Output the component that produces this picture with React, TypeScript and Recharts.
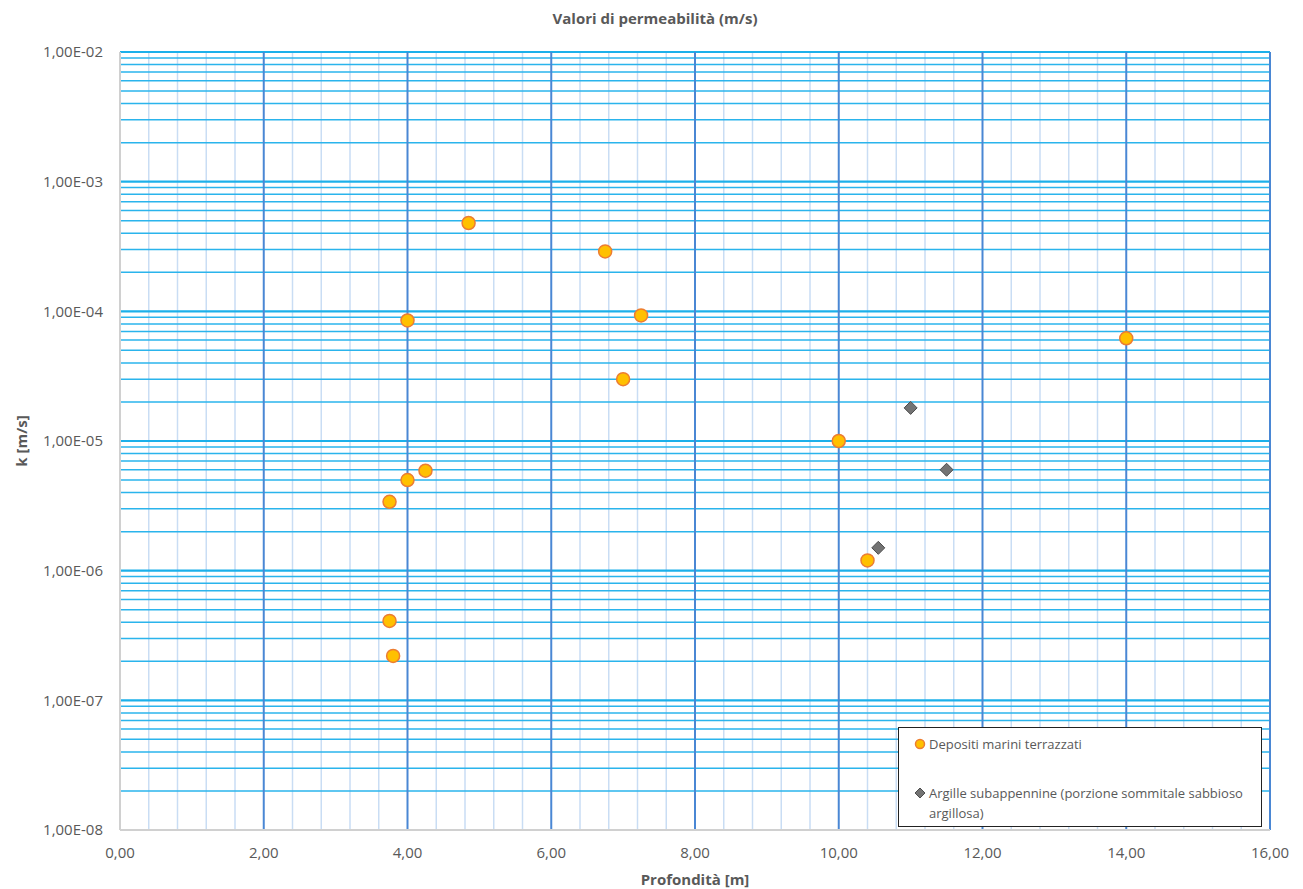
import React from "react";
import { ScatterChart, Scatter, XAxis, YAxis, ReferenceLine } from "recharts";

const depositiX = [4.85, 6.75, 4.0, 7.25, 7.0, 14.0, 10.0, 4.25, 4.0, 3.75, 10.4, 3.75, 3.8];
const depositiK = [4.8e-4, 2.9e-4, 8.5e-5, 9.3e-5, 3.0e-5, 6.2e-5, 1.0e-5, 5.9e-6, 5.0e-6, 3.4e-6, 1.2e-6, 4.1e-7, 2.2e-7];
const argilleX = [11.0, 11.5, 10.55];
const argilleK = [1.8e-5, 6.0e-6, 1.5e-6];

const xTicks = [0, 2, 4, 6, 8, 10, 12, 14, 16];
const yTicks = [1e-8, 1e-7, 1e-6, 1e-5, 1e-4, 1e-3, 1e-2];

const depositi = depositiX.map((x, i) => ({ x, y: depositiK[i] }));
const argille = argilleX.map((x, i) => ({ x, y: argilleK[i] }));

// minor x grid every 0.4, skipping the major ones
const xMinor: number[] = [];
for (let i = 1; i < 40; i++) {
    if (i % 5 !== 0) xMinor.push(Math.round(i * 0.4 * 100) / 100);
}
const yMinor: number[] = [];
for (let d = -8; d < -2; d++) {
    for (let m = 2; m <= 9; m++) yMinor.push(m * Math.pow(10, d));
}

const FONT = "'Open Sans', 'Noto Sans', sans-serif";
const GREY = "#595959";

const fmtX = (v: number) => v.toFixed(2).replace(".", ",");
const fmtY = (v: number) => {
    const e = Math.round(Math.log10(v));
    return "1,00E-" + String(-e).padStart(2, "0");
};

const Dot = (p: any) => (
    <circle cx={p.cx} cy={p.cy} r={6.5} fill="#ffc000" stroke="#ed7d31" strokeWidth={1.5} />
);
const Diamond = (p: any) => (
    <polygon
        points={`${p.cx},${p.cy - 6.5} ${p.cx + 6.5},${p.cy} ${p.cx},${p.cy + 6.5} ${p.cx - 6.5},${p.cy}`}
        fill="#737373" stroke="#4d4d4d" strokeWidth={1}
    />
);

function LegendBox() {
    return (
        <div style={{ position: "absolute", left: 890, top: 719, width: 362, height: 98, border: "1px solid #222", background: "#fff", fontFamily: FONT, fontSize: 13, color: GREY }}>
            <svg width={12} height={12} style={{ position: "absolute", left: 15, top: 10 }}>
                <circle cx={6} cy={6} r={4.5} fill="#ffc000" stroke="#ed7d31" strokeWidth={1.5} />
            </svg>
            <div style={{ position: "absolute", left: 30, top: 6, lineHeight: "20px" }}>Depositi marini terrazzati</div>
            <svg width={12} height={12} style={{ position: "absolute", left: 15, top: 59 }}>
                <polygon points="6,1 11,6 6,11 1,6" fill="#737373" stroke="#4d4d4d" strokeWidth={1} />
            </svg>
            <div style={{ position: "absolute", left: 30, top: 55, width: 330, lineHeight: "20px" }}>
                Argille subappennine (porzione sommitale sabbioso argillosa)
            </div>
        </div>
    );
}

export default function App() {
    return (
        <div style={{ position: "relative", width: 1287, height: 881 }}>
            <div style={{ position: "absolute", left: 647, top: 0, transform: "translateX(-50%)", fontFamily: FONT, fontSize: 15, fontWeight: "bold", color: GREY, whiteSpace: "nowrap" }}>
                Valori di permeabilità (m/s)
            </div>
            <ScatterChart width={1287} height={881} margin={{ top: 44, right: 25, left: 17, bottom: 19 }}>
                <XAxis
                    type="number" dataKey="x" domain={[0, 16]} ticks={xTicks} allowDataOverflow
                    tickFormatter={fmtX} tickSize={0} tickMargin={17} height={40}
                    axisLine={{ stroke: "#d0d0d0", strokeWidth: 2 }}
                    tick={{ fill: GREY, fontSize: 15, fontFamily: FONT }}
                    label={{ value: "Profondità [m]", position: "bottom", offset: 4, fill: GREY, fontSize: 15, fontWeight: "bold", fontFamily: FONT }}
                />
                <YAxis
                    type="number" dataKey="y" scale="log" domain={[1e-8, 1e-2]} ticks={yTicks} allowDataOverflow
                    tickFormatter={fmtY} tickSize={0} tickMargin={17} width={95}
                    axisLine={{ stroke: "#d0d0d0", strokeWidth: 2 }}
                    tick={{ fill: GREY, fontSize: 15, fontFamily: FONT }}
                    label={{ value: "k [m/s]", angle: -90, position: "insideLeft", offset: -3, fill: GREY, fontSize: 15, fontWeight: "bold", fontFamily: FONT, style: { textAnchor: "middle" } }}
                />
                {xMinor.map((v) => (
                    <ReferenceLine key={"xm" + v} x={v} stroke="#c9ddf4" strokeWidth={1.5} />
                ))}
                {yMinor.map((v) => (
                    <ReferenceLine key={"ym" + v} y={v} stroke="#2ab4ec" strokeWidth={1.5} />
                ))}
                {yTicks.map((v) => (
                    <ReferenceLine key={"yM" + v} y={v} stroke="#1cb0ea" strokeWidth={2.2} />
                ))}
                {xTicks.filter((v) => v > 0).map((v) => (
                    <ReferenceLine key={"xM" + v} x={v} stroke="#4a87d4" strokeWidth={2} />
                ))}
                <Scatter name="Depositi marini terrazzati" data={depositi} shape={Dot} isAnimationActive={false} />
                <Scatter name="Argille subappennine (porzione sommitale sabbioso argillosa)" data={argille} shape={Diamond} isAnimationActive={false} />
            </ScatterChart>
            <LegendBox />
        </div>
    );
}
